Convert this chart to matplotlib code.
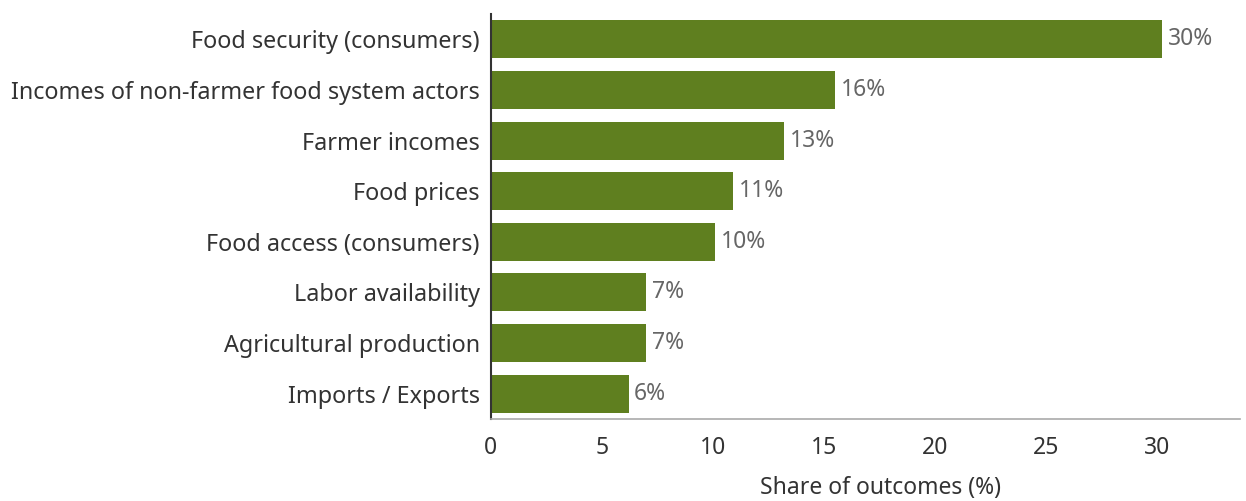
import matplotlib
matplotlib.use("Agg")
from matplotlib import pyplot as plt

categories = ["Food security (consumers)", "Incomes of non-farmer food system actors",
              "Farmer incomes", "Food prices", "Food access (consumers)",
              "Labor availability", "Agricultural production", "Imports / Exports"]
shares = [30.2, 15.5, 13.2, 10.9, 10.1, 7.0, 7.0, 6.2]
labels = ["30%", "16%", "13%", "11%", "10%", "7%", "7%", "6%"]
xticks = [0, 5, 10, 15, 20, 25, 30]

plt.rcParams['font.family'] = ['Noto Sans', 'DejaVu Sans']

fig = plt.figure(figsize=(12.46, 5.01), dpi=100)
ax = fig.add_axes([0.394, 0.164, 0.601, 0.808])

pos = list(range(len(categories)))
ax.barh(pos, shares, height=0.75, color='#5f7f1f')
for p, v, t in zip(pos, shares, labels):
    ax.text(v + 0.25, p, t, va='center', ha='left', fontsize=16.5, color='#666666')

ax.set_ylim(len(categories) - 0.5, -0.5)
ax.set_xlim(0, 33.7)
ax.set_yticks(pos)
ax.set_yticklabels(categories, fontsize=16.8, color='#333333')
ax.set_xticks(xticks)
ax.set_xticklabels([str(x) for x in xticks], fontsize=16.5, color='#333333')
ax.tick_params(axis='y', length=0, pad=8)
ax.tick_params(axis='x', length=0, pad=12)
ax.set_xlabel("Share of outcomes (%)", fontsize=16.5, color='#333333')
ax.xaxis.set_label_coords(0.52, -0.14)

for s in ['top', 'right']:
    ax.spines[s].set_visible(False)
ax.spines['left'].set_color('#333333')
ax.spines['left'].set_linewidth(1.5)
ax.spines['bottom'].set_color('#aaaaaa')
ax.spines['bottom'].set_linewidth(1.2)

fig.savefig("out.png", dpi=100)
